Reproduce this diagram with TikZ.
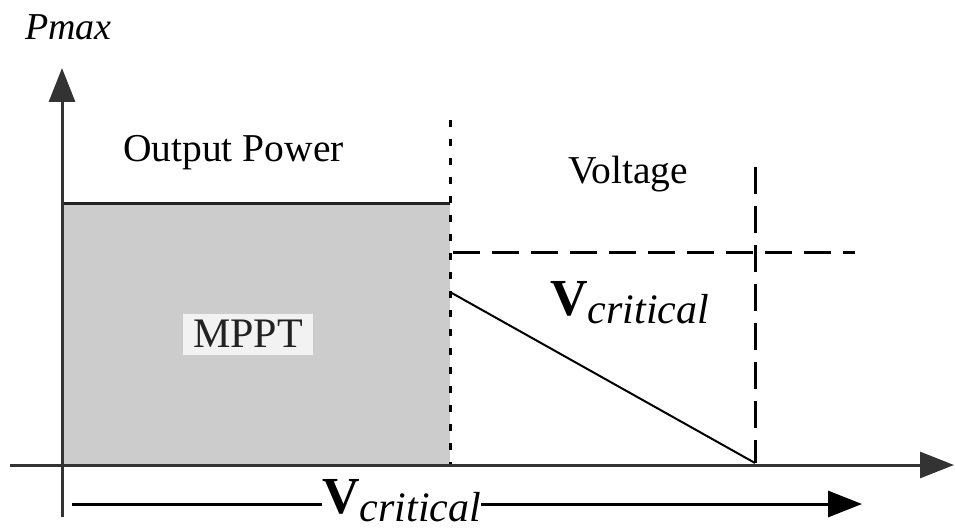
\documentclass[tikz,border=0pt]{standalone}
\usepackage{fontspec}
\setmainfont{Liberation Serif}
\usetikzlibrary{arrows.meta}
\definecolor{axisgray}{RGB}{51,51,51}
\definecolor{boxgray}{RGB}{204,204,204}
\definecolor{edgedark}{RGB}{34,34,34}
\definecolor{labelbg}{RGB}{242,242,242}
\begin{document}
\begin{tikzpicture}[x=1pt,y=-1pt,
  axisline/.style={draw=axisgray, line width=3pt, -{Triangle[length=34pt,width=26pt]}},
  finedash/.style={draw=black, line width=3pt, dash pattern=on 7pt off 12pt},
  longdash/.style={draw=black, line width=3pt, dash pattern=on 27pt off 12pt},
  txt/.style={inner sep=0pt, anchor=base west, font=\fontsize{39.5}{42}\selectfont},
  vlabel/.style={inner sep=0pt, anchor=base west}
]
\useasboundingbox (0,0) rectangle (955,529);
% MPPT region
\fill[boxgray] (62,204) rectangle (450,465);
\draw[edgedark, line width=3pt] (62,204) -- (450,204);
\node[fill=labelbg, text=edgedark, minimum width=130pt, minimum height=41pt, inner sep=0pt,
      font=\fontsize{42}{44}\selectfont] (mppt) at (248,334) {MPPT};
% dashed lines
\draw[finedash] (450,120) -- (450,465);
\draw[longdash] (453,253) -- (855,253);
\draw[longdash] (755,167) -- (755,463);
% diagonal
\coordinate (d1) at (450,292);
\coordinate (d2) at (755,463);
\draw[black, line width=2pt] (d1) -- (d2);
% axes
\coordinate (yb) at (62,517);
\coordinate (yt) at (62,68);
\coordinate (xl) at (10,465);
\coordinate (xr) at (954,465);
\draw[axisline] (yb) -- (yt);
\draw[axisline] (xl) -- (xr);
% labels
\node[txt, font=\fontsize{38}{40}\selectfont\itshape] (pmax) at (25,40) {Pmax};
\node[txt] (outp) at (123,162) {Output Power};
\node[txt] (volt) at (568,184) {Voltage};
\node[vlabel] (vc1) at (550,315) {\fontsize{52}{54}\selectfont\bfseries V\raisebox{-8pt}{\fontsize{42}{44}\selectfont\mdseries\itshape critical}};
\node[vlabel] (vc2) at (322,513) {\fontsize{52}{54}\selectfont\bfseries V\raisebox{-8pt}{\fontsize{42}{44}\selectfont\mdseries\itshape critical}};
% bottom arrow
\coordinate (bl) at (72,504);
\coordinate (br) at (862,504);
\draw[black, line width=3pt] (bl) -- (bl -| vc2.west);
\draw[black, line width=3pt, -{Triangle[length=34pt,width=26pt]}] (br -| vc2.east) -- (br);
\end{tikzpicture}
\end{document}
